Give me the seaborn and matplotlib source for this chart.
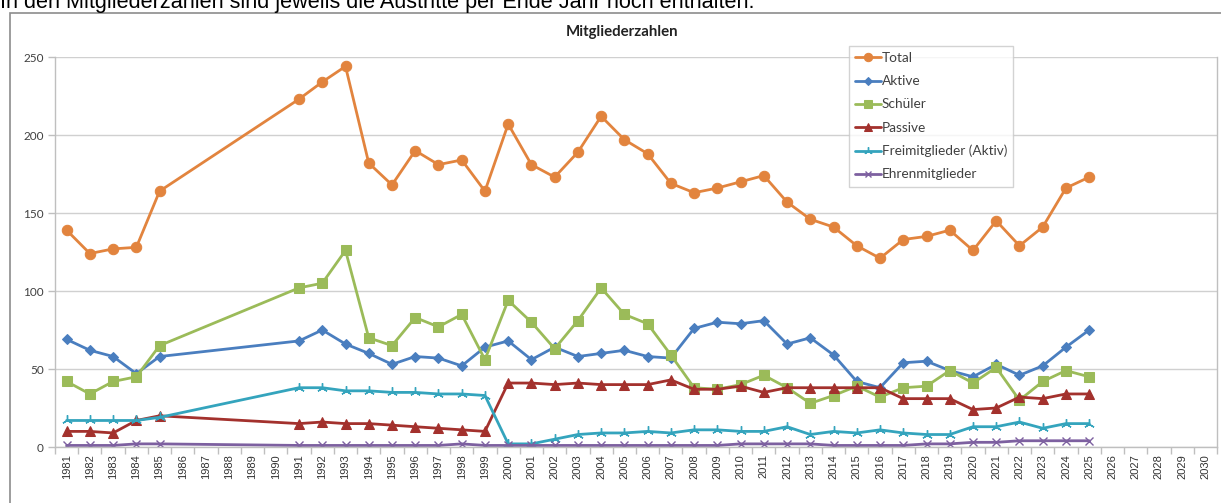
import matplotlib
matplotlib.use("Agg")
import matplotlib.pyplot as plt
import seaborn as sns
import numpy as np
from matplotlib.patches import Rectangle
from matplotlib.ticker import MultipleLocator, FixedLocator

years = [1981, 1982, 1983, 1984, 1985,
         1991, 1992, 1993, 1994, 1995, 1996, 1997, 1998, 1999, 2000,
         2001, 2002, 2003, 2004, 2005, 2006, 2007, 2008, 2009, 2010,
         2011, 2012, 2013, 2014, 2015, 2016, 2017, 2018, 2019, 2020,
         2021, 2022, 2023, 2024, 2025]

total = [139, 124, 127, 128, 164,
         223, 234, 244, 182, 168, 190, 181, 184, 164, 207,
         181, 173, 189, 212, 197, 188, 169, 163, 166, 170,
         174, 157, 146, 141, 129, 121, 133, 135, 139, 126,
         145, 129, 141, 166, 173]

aktive = [69, 62, 58, 47, 58,
          68, 75, 66, 60, 53, 58, 57, 52, 64, 68,
          56, 64, 58, 60, 62, 58, 57, 76, 80, 79,
          81, 66, 70, 59, 42, 38, 54, 55, 49, 45,
          53, 46, 52, 64, 75]

schueler = [42, 34, 42, 45, 65,
            102, 105, 126, 70, 65, 83, 77, 85, 56, 94,
            80, 63, 81, 102, 85, 79, 59, 38, 37, 40,
            46, 38, 28, 33, 39, 32, 38, 39, 49, 41,
            51, 30, 42, 49, 45]

passive = [10, 10, 9, 17, 20,
           15, 16, 15, 15, 14, 13, 12, 11, 10, 41,
           41, 40, 41, 40, 40, 40, 43, 37, 37, 39,
           35, 38, 38, 38, 38, 38, 31, 31, 31, 24,
           25, 32, 31, 34, 34]

frei = [17, 17, 17, 17, 19,
        38, 38, 36, 36, 35, 35, 34, 34, 33, 2,
        2, 5, 8, 9, 9, 10, 9, 11, 11, 10,
        10, 13, 8, 10, 9, 11, 9, 8, 8, 13,
        13, 16, 12, 15, 15]

ehren = [1, 1, 1, 2, 2,
         1, 1, 1, 1, 1, 1, 1, 2, 1, 1,
         1, 1, 1, 1, 1, 1, 1, 1, 1, 2,
         2, 2, 2, 1, 1, 1, 1, 2, 2, 3,
         3, 4, 4, 4, 4]

series_names = ["Total", "Aktive", "Schüler", "Passive",
                "Freimitglieder (Aktiv)", "Ehrenmitglieder"]
tick_years = list(range(1981, 2031))

title = "Mitgliederzahlen"
note = "In den Mitgliederzahlen sind jeweils die Austritte per Ende Jahr noch enthalten."

sns.set_theme(style="white")
plt.rcParams['font.family'] = ['Lato', 'DejaVu Sans']

fig = plt.figure(figsize=(12.21, 5.03), dpi=100)
ax = fig.add_axes([55/1221, 1-447/503, (1217-55)/1221, (447-57)/503])

# outer chart frame (extends past image edges)
fig.patches.append(Rectangle((10/1221, -0.1), 1.2, 1.1 - 13/503,
                             transform=fig.transFigure, fill=False,
                             edgecolor="#8c8c8c", linewidth=1.2, zorder=0))

styles = [
    (total, "#E2843E", "o", 7.5, {}),
    (aktive, "#4A7EBF", "D", 5.0, {}),
    (schueler, "#9BBB59", "s", 7.0, {}),
    (passive, "#A3312D", "^", 6.5, {}),
    (frei, "#34A4BD", (3, 2, 0), 7.5, {"markeredgewidth": 1.0}),
    (ehren, "#7D60A0", "x", 6.0, {"markeredgewidth": 1.0}),
]

for name, (vals, color, marker, ms, extra) in zip(series_names, styles):
    sns.lineplot(x=years, y=vals, ax=ax, color=color, marker=marker,
                 markersize=ms, linewidth=2.0, markeredgecolor=color,
                 markerfacecolor=color, label=name, **extra)

ax.set_xlim(1980.5, 2030.5)
ax.set_ylim(0, 250)
ax.yaxis.set_major_locator(MultipleLocator(50))
ax.xaxis.set_major_locator(FixedLocator(tick_years))
ax.set_xticklabels([str(y) for y in tick_years], rotation=90,
                   fontsize=8, family=['Liberation Sans', 'DejaVu Sans'],
                   color="#333333")
ax.xaxis.set_minor_locator(FixedLocator(np.arange(1980.5, 2031, 1.0)))
ax.tick_params(axis='x', which='major', length=0, pad=5)
ax.tick_params(axis='x', which='minor', length=5, color="#bfbfbf", width=1,
               direction='out', bottom=True)
ax.tick_params(axis='y', which='major', length=5, color="#bfbfbf", width=1,
               direction='out', left=True, labelsize=8.5, labelcolor="#404040",
               pad=3)
ax.grid(axis='y', color="#d0d0d0", linewidth=1.0)
ax.grid(axis='x', visible=False)
ax.set_axisbelow(True)

for side in ["left", "bottom", "right"]:
    ax.spines[side].set_visible(True)
    ax.spines[side].set_color("#bfbfbf")
    ax.spines[side].set_linewidth(1.0)
ax.spines["top"].set_visible(False)
ax.set_xlabel("")
ax.set_ylabel("")

leg = ax.legend(loc="upper left", bbox_to_anchor=((849-55)/1162, 1 + 11/390),
                frameon=True, fancybox=False, fontsize=9.8,
                handlelength=1.9, handletextpad=0.05, labelspacing=0.82,
                borderpad=0.45, borderaxespad=0, markerscale=0.8)
leg.get_frame().set_edgecolor("#c8c8c8")
leg.get_frame().set_linewidth(1.0)
for t in leg.get_texts():
    t.set_color("#404040")

fig.text(622/1221, 1-32/503, title, ha="center", va="center",
         fontsize=10.8, fontweight="bold", color="#222222")
fig.text(0.0, 1-8/503, note, ha="left", va="baseline",
         fontsize=15.6, family=['Liberation Sans', 'DejaVu Sans'], color="#000000")

fig.savefig("out.png", dpi=100)
